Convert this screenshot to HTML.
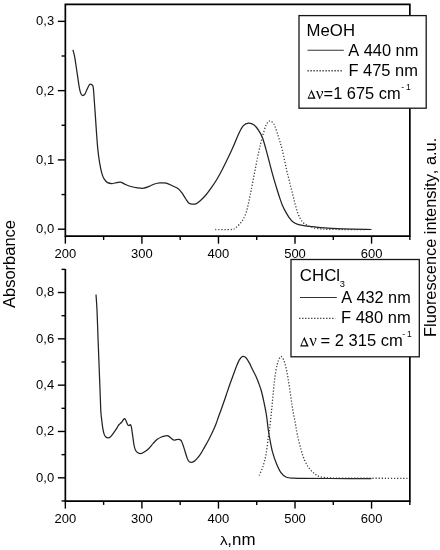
<!DOCTYPE html>
<html><head><meta charset="utf-8"><style>
html,body{margin:0;padding:0;background:#fff;}
svg{display:block;filter:grayscale(1);}
text{font-family:"Liberation Sans",sans-serif;fill:#000;font-kerning:none;}
.tl{font-size:13px;}
.lg{font-size:16px;}
.lgs{font-size:12.8px;}
.gk{font-family:"Liberation Serif",serif;}
</style></head><body>
<svg width="440" height="550" viewBox="0 0 440 550">
<rect width="440" height="550" fill="#fff"/>
<g fill="none" stroke="#222" stroke-width="1.25">
<path d="M72.90,49.90 C73.17,50.90 73.95,53.08 74.50,55.90 C75.05,58.72 75.65,63.17 76.20,66.80 C76.75,70.43 77.25,74.07 77.80,77.70 C78.35,81.33 78.95,85.87 79.50,88.60 C80.05,91.33 80.57,92.95 81.10,94.10 C81.63,95.25 82.07,95.50 82.70,95.50 C83.33,95.50 84.17,95.15 84.90,94.10 C85.63,93.05 86.37,90.75 87.10,89.20 C87.83,87.65 88.63,85.62 89.30,84.80 C89.97,83.98 90.50,84.12 91.10,84.30 C91.70,84.48 92.48,84.82 92.90,85.90 C93.32,86.98 93.38,88.53 93.60,90.80 C93.82,93.07 93.90,95.23 94.20,99.50 C94.50,103.77 95.02,110.87 95.40,116.40 C95.78,121.93 96.10,127.25 96.50,132.70 C96.90,138.15 97.30,144.18 97.80,149.10 C98.30,154.02 98.82,158.12 99.50,162.20 C100.18,166.28 101.08,170.73 101.90,173.60 C102.72,176.47 103.45,177.90 104.40,179.40 C105.35,180.90 106.38,181.92 107.60,182.60 C108.82,183.28 110.20,183.50 111.70,183.50 C113.20,183.50 115.10,182.83 116.60,182.60 C118.10,182.37 119.22,181.78 120.70,182.10 C122.18,182.42 123.80,183.77 125.50,184.50 C127.20,185.23 128.93,185.95 130.90,186.50 C132.87,187.05 135.18,187.52 137.30,187.80 C139.42,188.08 141.63,188.43 143.60,188.20 C145.57,187.97 147.28,187.10 149.10,186.40 C150.92,185.70 152.68,184.58 154.50,184.00 C156.32,183.42 158.02,183.05 160.00,182.90 C161.98,182.75 164.28,182.58 166.40,183.10 C168.52,183.62 170.73,185.07 172.70,186.00 C174.67,186.93 176.68,187.58 178.20,188.70 C179.72,189.82 180.58,191.07 181.80,192.70 C183.02,194.33 184.28,196.73 185.50,198.50 C186.72,200.27 187.90,202.35 189.10,203.30 C190.30,204.25 191.48,204.15 192.70,204.20 C193.92,204.25 195.10,204.22 196.40,203.60 C197.70,202.98 198.92,201.93 200.50,200.50 C202.08,199.07 204.08,197.13 205.90,195.00 C207.72,192.87 209.58,190.28 211.40,187.70 C213.22,185.12 214.98,182.53 216.80,179.50 C218.62,176.47 220.48,172.98 222.30,169.50 C224.12,166.02 225.88,162.38 227.70,158.60 C229.52,154.82 231.38,150.88 233.20,146.80 C235.02,142.72 236.93,137.58 238.60,134.10 C240.27,130.62 241.53,127.72 243.20,125.90 C244.87,124.08 246.78,123.35 248.60,123.20 C250.42,123.05 252.43,123.82 254.10,125.00 C255.77,126.18 257.23,128.25 258.60,130.30 C259.97,132.35 261.08,134.17 262.30,137.30 C263.52,140.43 264.70,144.87 265.90,149.10 C267.10,153.33 268.32,158.23 269.50,162.70 C270.68,167.17 271.83,171.73 273.00,175.90 C274.17,180.07 275.28,183.75 276.50,187.70 C277.72,191.65 279.30,196.63 280.30,199.60 C281.30,202.57 281.65,203.53 282.50,205.50 C283.35,207.47 284.32,209.43 285.40,211.40 C286.48,213.37 287.72,215.53 289.00,217.30 C290.28,219.07 291.63,220.82 293.10,222.00 C294.57,223.18 296.03,223.80 297.80,224.40 C299.57,225.00 301.73,225.28 303.70,225.60 C305.67,225.92 306.80,225.97 309.60,226.30 C312.40,226.63 314.90,227.17 320.50,227.60 C326.10,228.03 334.70,228.58 343.20,228.90 C351.70,229.22 366.78,229.40 371.50,229.50"/>
<path d="M96.00,294.60 C96.17,297.17 96.65,302.43 97.00,310.00 C97.35,317.57 97.80,331.97 98.10,340.00 C98.40,348.03 98.57,352.13 98.80,358.20 C99.03,364.27 99.27,370.35 99.50,376.40 C99.73,382.45 99.97,388.52 100.20,394.50 C100.43,400.48 100.63,407.97 100.90,412.30 C101.17,416.63 101.50,417.93 101.80,420.50 C102.10,423.07 102.32,425.43 102.70,427.70 C103.08,429.97 103.57,432.55 104.10,434.10 C104.63,435.65 105.22,436.37 105.90,437.00 C106.58,437.63 107.43,437.93 108.20,437.90 C108.97,437.87 109.75,437.43 110.50,436.80 C111.25,436.17 111.95,435.08 112.70,434.10 C113.45,433.12 114.23,432.03 115.00,430.90 C115.77,429.77 116.62,428.37 117.30,427.30 C117.98,426.23 118.42,425.30 119.10,424.50 C119.78,423.70 120.72,423.25 121.40,422.50 C122.08,421.75 122.70,420.65 123.20,420.00 C123.70,419.35 124.00,418.65 124.40,418.60 C124.80,418.55 125.20,419.02 125.60,419.70 C126.00,420.38 126.40,421.78 126.80,422.70 C127.20,423.62 127.62,424.73 128.00,425.20 C128.38,425.67 128.72,425.60 129.10,425.50 C129.48,425.40 129.92,424.32 130.30,424.60 C130.68,424.88 131.00,425.32 131.40,427.20 C131.80,429.08 132.25,432.85 132.70,435.90 C133.15,438.95 133.63,443.12 134.10,445.50 C134.57,447.88 134.82,448.95 135.50,450.20 C136.18,451.45 137.18,452.47 138.20,453.00 C139.22,453.53 140.47,453.63 141.60,453.40 C142.73,453.17 143.75,452.47 145.00,451.60 C146.25,450.73 147.73,449.57 149.10,448.20 C150.47,446.83 151.83,444.88 153.20,443.40 C154.57,441.92 155.93,440.37 157.30,439.30 C158.67,438.23 160.03,437.57 161.40,437.00 C162.77,436.43 164.37,436.08 165.50,435.90 C166.63,435.72 167.30,435.55 168.20,435.90 C169.10,436.25 170.00,437.32 170.90,438.00 C171.80,438.68 172.68,439.72 173.60,440.00 C174.52,440.28 175.48,439.82 176.40,439.70 C177.32,439.58 178.30,439.13 179.10,439.30 C179.90,439.47 180.52,439.67 181.20,440.70 C181.88,441.73 182.52,443.57 183.20,445.50 C183.88,447.43 184.62,450.15 185.30,452.30 C185.98,454.45 186.77,456.98 187.30,458.40 C187.83,459.82 187.90,460.15 188.50,460.80 C189.10,461.45 190.05,462.17 190.90,462.30 C191.75,462.43 192.58,462.22 193.60,461.60 C194.62,460.98 195.85,459.83 197.00,458.60 C198.15,457.37 199.27,456.07 200.50,454.20 C201.73,452.33 203.03,449.82 204.40,447.40 C205.77,444.98 207.35,442.25 208.70,439.70 C210.05,437.15 211.32,434.63 212.50,432.10 C213.68,429.57 214.80,427.05 215.80,424.50 C216.80,421.95 217.58,419.35 218.50,416.80 C219.42,414.25 220.38,411.75 221.30,409.20 C222.22,406.65 223.15,403.95 224.00,401.50 C224.85,399.05 225.47,397.25 226.40,394.50 C227.33,391.75 228.52,388.08 229.60,385.00 C230.68,381.92 231.80,379.00 232.90,376.00 C234.00,373.00 235.10,369.73 236.20,367.00 C237.30,364.27 238.42,361.37 239.50,359.60 C240.58,357.83 241.62,356.72 242.70,356.40 C243.78,356.08 244.90,356.62 246.00,357.70 C247.10,358.78 248.22,360.93 249.30,362.90 C250.38,364.87 251.42,367.32 252.50,369.50 C253.58,371.68 254.70,373.55 255.80,376.00 C256.90,378.45 258.15,381.62 259.10,384.20 C260.05,386.78 260.68,388.47 261.50,391.50 C262.32,394.53 263.17,398.40 264.00,402.40 C264.83,406.40 265.80,411.05 266.50,415.50 C267.20,419.95 267.62,425.02 268.20,429.10 C268.78,433.18 269.25,436.07 270.00,440.00 C270.75,443.93 271.63,448.77 272.70,452.70 C273.77,456.63 275.03,460.27 276.40,463.60 C277.77,466.93 279.23,470.42 280.90,472.70 C282.57,474.98 284.28,476.38 286.40,477.30 C288.52,478.22 290.58,478.03 293.60,478.20 C296.62,478.37 298.43,478.25 304.50,478.30 C310.57,478.35 318.83,478.47 330.00,478.50 C341.17,478.53 364.58,478.50 371.50,478.50"/>
</g>
<g fill="none" stroke="#3a3a3a" stroke-width="1.3" stroke-dasharray="1.2 1.85">
<path d="M215.30,229.50 C217.98,229.50 228.03,229.77 231.40,229.50 C234.77,229.23 234.03,228.92 235.50,227.90 C236.97,226.88 238.85,224.95 240.20,223.40 C241.55,221.85 242.57,220.53 243.60,218.60 C244.63,216.67 245.60,214.30 246.40,211.80 C247.20,209.30 247.83,206.10 248.40,203.60 C248.97,201.10 249.33,199.07 249.80,196.80 C250.27,194.53 250.48,193.63 251.20,190.00 C251.92,186.37 252.87,181.25 254.10,175.00 C255.33,168.75 257.20,158.92 258.60,152.50 C260.00,146.08 261.28,141.00 262.50,136.50 C263.72,132.00 264.90,127.98 265.90,125.50 C266.90,123.02 267.73,122.37 268.50,121.60 C269.27,120.83 269.78,120.73 270.50,120.90 C271.22,121.07 272.05,121.68 272.80,122.60 C273.55,123.52 274.03,123.95 275.00,126.40 C275.97,128.85 277.38,133.37 278.60,137.30 C279.82,141.23 280.97,144.55 282.30,150.00 C283.63,155.45 285.58,165.48 286.60,170.00 C287.62,174.52 287.82,174.73 288.40,177.10 C288.98,179.47 289.52,181.83 290.10,184.20 C290.68,186.57 291.30,188.93 291.90,191.30 C292.50,193.67 293.10,196.03 293.70,198.40 C294.30,200.77 294.85,203.13 295.50,205.50 C296.15,207.87 296.82,210.43 297.60,212.60 C298.38,214.77 299.28,216.83 300.20,218.50 C301.12,220.17 302.02,221.52 303.10,222.60 C304.18,223.68 305.62,224.38 306.70,225.00 C307.78,225.62 307.68,225.70 309.60,226.30 C311.52,226.90 314.50,228.08 318.20,228.60 C321.90,229.12 324.00,229.23 331.80,229.40 C339.60,229.57 359.47,229.57 365.00,229.60"/>
<path d="M259.10,475.50 C259.70,474.13 261.55,470.80 262.70,467.30 C263.85,463.80 265.08,459.35 266.00,454.50 C266.92,449.65 267.58,442.53 268.20,438.20 C268.82,433.87 269.17,432.83 269.70,428.50 C270.23,424.17 270.85,417.65 271.40,412.20 C271.95,406.75 272.47,401.25 273.00,395.80 C273.53,390.35 273.92,384.68 274.60,379.50 C275.28,374.32 276.28,368.25 277.10,364.70 C277.92,361.15 278.82,359.57 279.50,358.20 C280.18,356.83 280.52,356.23 281.20,356.50 C281.88,356.77 282.78,357.88 283.60,359.80 C284.42,361.72 285.28,364.45 286.10,368.00 C286.92,371.55 287.73,376.47 288.50,381.10 C289.27,385.73 290.02,391.17 290.70,395.80 C291.38,400.43 291.87,404.53 292.60,408.90 C293.33,413.27 294.32,417.73 295.10,422.00 C295.88,426.27 296.33,429.98 297.30,434.50 C298.27,439.02 299.70,444.85 300.90,449.10 C302.10,453.35 303.13,456.82 304.50,460.00 C305.87,463.18 307.43,465.93 309.10,468.20 C310.77,470.47 312.68,472.18 314.50,473.60 C316.32,475.02 317.42,475.98 320.00,476.70 C322.58,477.42 325.00,477.65 330.00,477.90 C335.00,478.15 337.00,478.13 350.00,478.20 C363.00,478.27 398.33,478.28 408.00,478.30"/>
</g>
<g stroke="#000" fill="none">
<!-- top frame -->
<path d="M65.35,236.15 L65.35,4.4 L409.85,4.4 L409.85,236.15 Z" stroke-width="1.7"/>
<!-- bottom frame (no top border) -->
<path d="M65.35,268.9 L65.35,501.1 L409.85,501.1 L409.85,268.9" stroke-width="1.7"/>
<line x1="57.85" y1="229.20" x2="65.35" y2="229.20" stroke-width="1.4"/>
<line x1="57.85" y1="159.92" x2="65.35" y2="159.92" stroke-width="1.4"/>
<line x1="57.85" y1="90.64" x2="65.35" y2="90.64" stroke-width="1.4"/>
<line x1="57.85" y1="21.36" x2="65.35" y2="21.36" stroke-width="1.4"/>
<line x1="61.55" y1="194.56" x2="65.35" y2="194.56" stroke-width="1.4"/>
<line x1="61.55" y1="125.28" x2="65.35" y2="125.28" stroke-width="1.4"/>
<line x1="61.55" y1="56.00" x2="65.35" y2="56.00" stroke-width="1.4"/>
<line x1="57.85" y1="477.80" x2="65.35" y2="477.80" stroke-width="1.4"/>
<line x1="57.85" y1="431.48" x2="65.35" y2="431.48" stroke-width="1.4"/>
<line x1="57.85" y1="385.16" x2="65.35" y2="385.16" stroke-width="1.4"/>
<line x1="57.85" y1="338.84" x2="65.35" y2="338.84" stroke-width="1.4"/>
<line x1="57.85" y1="292.52" x2="65.35" y2="292.52" stroke-width="1.4"/>
<line x1="61.55" y1="500.96" x2="65.35" y2="500.96" stroke-width="1.4"/>
<line x1="61.55" y1="454.64" x2="65.35" y2="454.64" stroke-width="1.4"/>
<line x1="61.55" y1="408.32" x2="65.35" y2="408.32" stroke-width="1.4"/>
<line x1="61.55" y1="362.00" x2="65.35" y2="362.00" stroke-width="1.4"/>
<line x1="61.55" y1="315.68" x2="65.35" y2="315.68" stroke-width="1.4"/>
<line x1="61.55" y1="269.36" x2="65.35" y2="269.36" stroke-width="1.4"/>
<line x1="65.35" y1="236.15" x2="65.35" y2="243.65" stroke-width="1.4"/>
<line x1="141.91" y1="236.15" x2="141.91" y2="243.65" stroke-width="1.4"/>
<line x1="218.46" y1="236.15" x2="218.46" y2="243.65" stroke-width="1.4"/>
<line x1="295.02" y1="236.15" x2="295.02" y2="243.65" stroke-width="1.4"/>
<line x1="371.57" y1="236.15" x2="371.57" y2="243.65" stroke-width="1.4"/>
<line x1="103.63" y1="236.15" x2="103.63" y2="239.95" stroke-width="1.4"/>
<line x1="180.18" y1="236.15" x2="180.18" y2="239.95" stroke-width="1.4"/>
<line x1="256.74" y1="236.15" x2="256.74" y2="239.95" stroke-width="1.4"/>
<line x1="333.29" y1="236.15" x2="333.29" y2="239.95" stroke-width="1.4"/>
<line x1="409.85" y1="236.15" x2="409.85" y2="239.95" stroke-width="1.4"/>
<line x1="65.35" y1="501.10" x2="65.35" y2="508.60" stroke-width="1.4"/>
<line x1="141.91" y1="501.10" x2="141.91" y2="508.60" stroke-width="1.4"/>
<line x1="218.46" y1="501.10" x2="218.46" y2="508.60" stroke-width="1.4"/>
<line x1="295.02" y1="501.10" x2="295.02" y2="508.60" stroke-width="1.4"/>
<line x1="371.57" y1="501.10" x2="371.57" y2="508.60" stroke-width="1.4"/>
<line x1="103.63" y1="501.10" x2="103.63" y2="504.90" stroke-width="1.4"/>
<line x1="180.18" y1="501.10" x2="180.18" y2="504.90" stroke-width="1.4"/>
<line x1="256.74" y1="501.10" x2="256.74" y2="504.90" stroke-width="1.4"/>
<line x1="333.29" y1="501.10" x2="333.29" y2="504.90" stroke-width="1.4"/>
<line x1="409.85" y1="501.10" x2="409.85" y2="504.90" stroke-width="1.4"/>
</g>
<text x="54.2" y="233.10" text-anchor="end" class="tl">0,0</text>
<text x="54.2" y="163.82" text-anchor="end" class="tl">0,1</text>
<text x="54.2" y="94.54" text-anchor="end" class="tl">0,2</text>
<text x="54.2" y="25.26" text-anchor="end" class="tl">0,3</text>
<text x="54.2" y="481.70" text-anchor="end" class="tl">0,0</text>
<text x="54.2" y="435.38" text-anchor="end" class="tl">0,2</text>
<text x="54.2" y="389.06" text-anchor="end" class="tl">0,4</text>
<text x="54.2" y="342.74" text-anchor="end" class="tl">0,6</text>
<text x="54.2" y="296.42" text-anchor="end" class="tl">0,8</text>
<text x="65.35" y="257.95" text-anchor="middle" class="tl">200</text>
<text x="141.91" y="257.95" text-anchor="middle" class="tl">300</text>
<text x="218.46" y="257.95" text-anchor="middle" class="tl">400</text>
<text x="295.02" y="257.95" text-anchor="middle" class="tl">500</text>
<text x="371.57" y="257.95" text-anchor="middle" class="tl">600</text>
<text x="65.35" y="522.90" text-anchor="middle" class="tl">200</text>
<text x="141.91" y="522.90" text-anchor="middle" class="tl">300</text>
<text x="218.46" y="522.90" text-anchor="middle" class="tl">400</text>
<text x="295.02" y="522.90" text-anchor="middle" class="tl">500</text>
<text x="371.57" y="522.90" text-anchor="middle" class="tl">600</text>
<!-- legends -->
<rect x="299" y="15.6" width="127.2" height="92.6" fill="#fff" stroke="#161616" stroke-width="1.3"/>
<text x="306.63" y="36.20" class="lg" textLength="48.34" lengthAdjust="spacingAndGlyphs">MeOH</text>
<line x1="307.5" y1="50.2" x2="343.8" y2="50.2" stroke="#333" stroke-width="1.1"/>
<text x="348.17" y="56.30" class="lg" textLength="70.21" lengthAdjust="spacingAndGlyphs">A 440 nm</text>
<line x1="307.5" y1="70.7" x2="342.8" y2="70.7" stroke="#222" stroke-width="1.35" stroke-dasharray="1.2 1.8"/>
<text x="348.45" y="75.90" class="lg" textLength="69.43" lengthAdjust="spacingAndGlyphs">F 475 nm</text>
<path fill-rule="evenodd" fill="#000" d="M307.50,98.70 L311.55,89.70 L315.60,98.70 Z M308.89,97.55 L311.25,92.32 L313.60,97.55 Z"/>
<text x="315.85" y="98.8" class="lg gk" textLength="7.8" lengthAdjust="spacingAndGlyphs">&#957;</text>
<text x="323.60" y="98.80" class="lg" textLength="76.98" lengthAdjust="spacingAndGlyphs">=1 675 cm</text>
<text x="401.2" y="89.6" font-size="8.5">-</text><text x="406" y="89.6" font-size="8.5">1</text>

<rect x="291" y="259.5" width="128.3" height="97.3" fill="#fff" stroke="#161616" stroke-width="1.3"/>
<text x="299.85" y="281.00" class="lg" textLength="40.18" lengthAdjust="spacingAndGlyphs">CHCl</text>
<text x="339.8" y="287.4" font-size="9.3">3</text>
<line x1="300" y1="297.5" x2="336.8" y2="297.5" stroke="#333" stroke-width="1.1"/>
<text x="341.17" y="303.10" class="lg" textLength="69.50" lengthAdjust="spacingAndGlyphs">A 432 nm</text>
<line x1="299.2" y1="318.4" x2="335.4" y2="318.4" stroke="#222" stroke-width="1.35" stroke-dasharray="1.2 1.8"/>
<text x="341.05" y="323.10" class="lg" textLength="69.64" lengthAdjust="spacingAndGlyphs">F 480 nm</text>
<path fill-rule="evenodd" fill="#000" d="M300.10,346.40 L304.35,336.80 L308.60,346.40 Z M301.48,345.25 L304.05,339.46 L306.61,345.25 Z"/>
<text x="309.3" y="346.3" class="lg gk" textLength="7.6" lengthAdjust="spacingAndGlyphs">&#957;</text>
<text x="320.49" y="346.30" class="lg" textLength="82.20" lengthAdjust="spacingAndGlyphs">= 2 315 cm</text>
<text x="402.3" y="337.4" font-size="8.5">-</text><text x="407.1" y="337.4" font-size="8.5">1</text>

<!-- axis titles -->
<text x="0" y="0" class="lg" transform="translate(14.80,308.03) rotate(-90)" textLength="88.07" lengthAdjust="spacingAndGlyphs">Absorbance</text>
<text x="0" y="0" class="lg" transform="translate(436.20,336.94) rotate(-90)" textLength="199.14" lengthAdjust="spacingAndGlyphs">Fluorescence intensity, a.u.</text>
<text x="220.00" y="545.00" class="lgs" textLength="7.64" lengthAdjust="spacingAndGlyphs">&#955;</text>
<text x="227.38" y="545.00" class="lg" textLength="28.13" lengthAdjust="spacingAndGlyphs">,nm</text>
</svg>
</body></html>
